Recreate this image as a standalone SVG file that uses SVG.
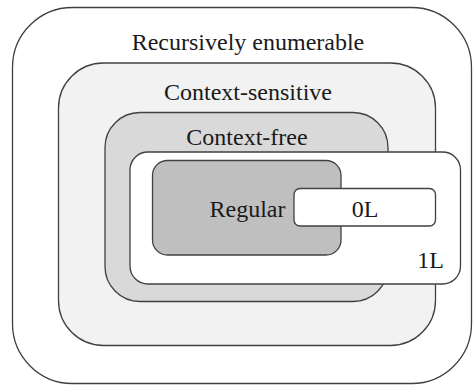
<svg xmlns="http://www.w3.org/2000/svg" width="473" height="385" viewBox="0 0 473 385">
  <style>
    .box { stroke: #404040; stroke-width: 1.3; }
    text { font-family: "Times New Roman", "Liberation Serif", "DejaVu Serif", serif; font-size: 24px; fill: #1a1a1a; text-anchor: middle; }
  </style>
  <rect width="473" height="385" fill="#ffffff"/>
  <g id="recursively-enumerable">
    <rect class="box" x="12.5" y="7.5" width="459" height="376" rx="60" ry="60" fill="#ffffff"/>
    <text x="248" y="50">Recursively enumerable</text>
  </g>
  <g id="context-sensitive">
    <rect class="box" x="58.5" y="63" width="377" height="282.5" rx="45" ry="45" fill="#f2f2f2"/>
    <text x="248" y="100">Context-sensitive</text>
  </g>
  <g id="context-free">
    <rect class="box" x="105" y="112.5" width="283" height="189" rx="35" ry="35" fill="#d9d9d9"/>
    <text x="247" y="145">Context-free</text>
  </g>
  <g id="one-l">
    <rect class="box" x="130" y="152" width="330.5" height="132" rx="18" ry="18" fill="#ffffff"/>
    <text x="444" y="268" style="text-anchor:end">1L</text>
  </g>
  <g id="regular">
    <rect class="box" x="152.5" y="160.5" width="188.5" height="94.5" rx="15" ry="15" fill="#bfbfbf"/>
    <text x="247.5" y="217">Regular</text>
  </g>
  <g id="zero-l">
    <rect class="box" x="294" y="188.5" width="141.5" height="37.5" rx="6" ry="6" fill="#ffffff"/>
    <text x="365" y="217">0L</text>
  </g>
  <g id="connectors"/>
</svg>
